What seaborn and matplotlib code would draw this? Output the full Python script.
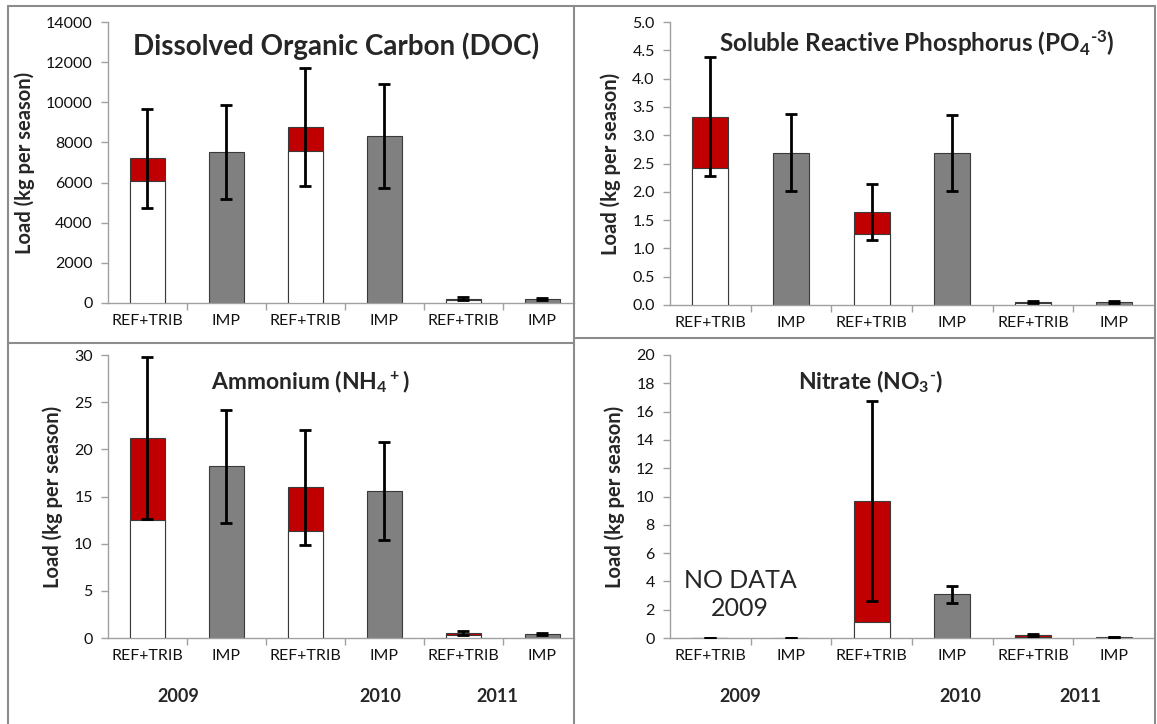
import numpy as np
import pandas as pd
import matplotlib
matplotlib.use("Agg")
import matplotlib.pyplot as plt
import seaborn as sns
from matplotlib.lines import Line2D

# ---------------- data ----------------
groups = ["REF+TRIB", "IMP", "REF+TRIB", "IMP", "REF+TRIB", "IMP"]
years = ["2009", "2009", "2010", "2010", "2011", "2011"]

doc_total = [7200, 7500, 8770, 8330, 220, 200]
doc_base = [6100, np.nan, 7550, np.nan, 150, np.nan]
doc_err = [2470, 2340, 2940, 2580, 60, 60]

srp_total = [3.33, 2.69, 1.64, 2.69, 0.05, 0.05]
srp_base = [2.42, np.nan, 1.25, np.nan, 0.04, np.nan]
srp_err = [1.05, 0.68, 0.50, 0.67, 0.015, 0.015]

nh4_total = [21.2, 18.2, 16.0, 15.6, 0.55, 0.40]
nh4_base = [12.5, np.nan, 11.35, np.nan, 0.30, np.nan]
nh4_err = [8.6, 6.0, 6.1, 5.2, 0.20, 0.10]

no3_total = [0.0, 0.0, 9.68, 3.1, 0.20, 0.07]
no3_base = [0.0, np.nan, 1.13, np.nan, 0.08, np.nan]
no3_err = [0.0, 0.0, 7.05, 0.6, 0.08, 0.02]

year_labels = ["2009", "2010", "2011"]

RED = "#C00000"
GRAY = "#808080"
AXC = "#A0A0A0"

sns.set_style("white")
plt.rcParams["font.family"] = ["Lato", "DejaVu Sans"]
plt.rcParams["mathtext.default"] = "regular"

fig = plt.figure(figsize=(11.57, 7.24), dpi=100)
W, H = 1157, 724


def fax(x0, y0, x1, y1):
    return fig.add_axes([x0 / W, 1 - y1 / H, (x1 - x0) / W, (y1 - y0) / H])


def panel(ax, total, base, err, ymax, ystep, fmt, title, tx, ty, tsize, xmax):
    keys = [f"{y} {g}" for y, g in zip(years, groups)]
    df = pd.DataFrame({"key": keys, "group": groups, "total": total,
                       "base": base, "err": err})
    pal = {k: (RED if g == "REF+TRIB" else GRAY) for k, g in zip(keys, groups)}
    sns.barplot(data=df, x="key", y="total", hue="key", palette=pal, order=keys,
                hue_order=keys, width=0.45, saturation=1, edgecolor="#3a3a3a",
                linewidth=0.8, legend=False, errorbar=None, ax=ax, zorder=2)
    ref = df[df["group"] == "REF+TRIB"]
    sns.barplot(data=ref, x="key", y="base", order=keys, color="white",
                width=0.45, saturation=1, edgecolor="#3a3a3a", linewidth=0.8,
                errorbar=None, ax=ax, zorder=3)
    ax.errorbar(np.arange(len(keys)), df["total"], yerr=df["err"], fmt="none",
                ecolor="black", elinewidth=2, capsize=4, capthick=2, zorder=5)
    ax.set_xlim(-0.5, xmax)
    ax.set_ylim(0, ymax)
    yt = np.arange(0, ymax + ystep / 2, ystep)
    ax.set_yticks(yt)
    ax.set_yticklabels([fmt.format(v) for v in yt], fontsize=11.5,
                       color="#111111")
    ax.set_xticks(np.arange(0.5, 5, 1))
    ax.set_xticklabels([])
    ax.set_xticks(np.arange(6), minor=True)
    ax.set_xticklabels(groups, minor=True, fontsize=11.5, color="#111111")
    ax.tick_params(axis="x", which="major", length=5, color=AXC, width=1,
                   direction="out", bottom=True)
    ax.tick_params(axis="x", which="minor", length=0, pad=8)
    ax.tick_params(axis="y", length=5, color=AXC, width=1, direction="out",
                   left=True, pad=6)
    for s in ["top", "right"]:
        ax.spines[s].set_visible(False)
    for s in ["left", "bottom"]:
        ax.spines[s].set_color(AXC)
        ax.spines[s].set_linewidth(1)
    ax.set_xlabel("")
    ax.set_ylabel("Load (kg per season)", fontsize=14.5, fontweight="bold",
                  labelpad=8)
    ax.text(tx, ty, title, transform=ax.transAxes, ha="center", va="center",
            fontsize=tsize, fontweight="bold")
    ax.grid(False)


ax1 = fax(108, 22, 574, 303)
panel(ax1, doc_total, doc_base, doc_err, 14000, 2000, "{:.0f}",
      "Dissolved Organic Carbon (DOC)", 0.49, 0.915, 20, 5.4)

ax2 = fax(670, 22, 1154, 305)
panel(ax2, srp_total, srp_base, srp_err, 5.0, 0.5, "{:.1f}",
      "Soluble Reactive Phosphorus (PO$_4{}^{\u20103}$)", 0.51, 0.925, 17.5, 5.5)

ax3 = fax(108, 355, 574, 638)
panel(ax3, nh4_total, nh4_base, nh4_err, 30, 5, "{:.0f}",
      "Ammonium (NH$_4{}^+$)", 0.435, 0.905, 16.5, 5.4)

ax4 = fax(670, 355, 1154, 638)
panel(ax4, no3_total, no3_base, no3_err, 20, 2, "{:.0f}",
      "Nitrate (NO$_3{}^{\u2010}$)", 0.415, 0.905, 16.5, 5.5)
ax4.text(0.145, 0.155, "NO DATA\n2009", transform=ax4.transAxes, ha="center",
         va="center", fontsize=18, linespacing=1.25)

# year labels
for x, lab in zip([178, 380, 497], year_labels):
    fig.text(x / W, 1 - 697 / H, lab, ha="center", va="center", fontsize=13,
             fontweight="bold")
for x, lab in zip([740, 960, 1080], year_labels):
    fig.text(x / W, 1 - 697 / H, lab, ha="center", va="center", fontsize=13,
             fontweight="bold")

# panel borders
LC = "#8c8c8c"
def fline(xs, ys):
    fig.add_artist(Line2D([x / W for x in xs], [1 - y / H for y in ys],
                          color=LC, lw=1.5, transform=fig.transFigure))

fline([8, 1155], [6, 6])
fline([8, 8], [6, 724])
fline([1155, 1155], [6, 724])
fline([574, 574], [6, 724])
fline([8, 574], [343, 343])
fline([574, 1155], [338, 338])

fig.savefig("out.png", dpi=100)
